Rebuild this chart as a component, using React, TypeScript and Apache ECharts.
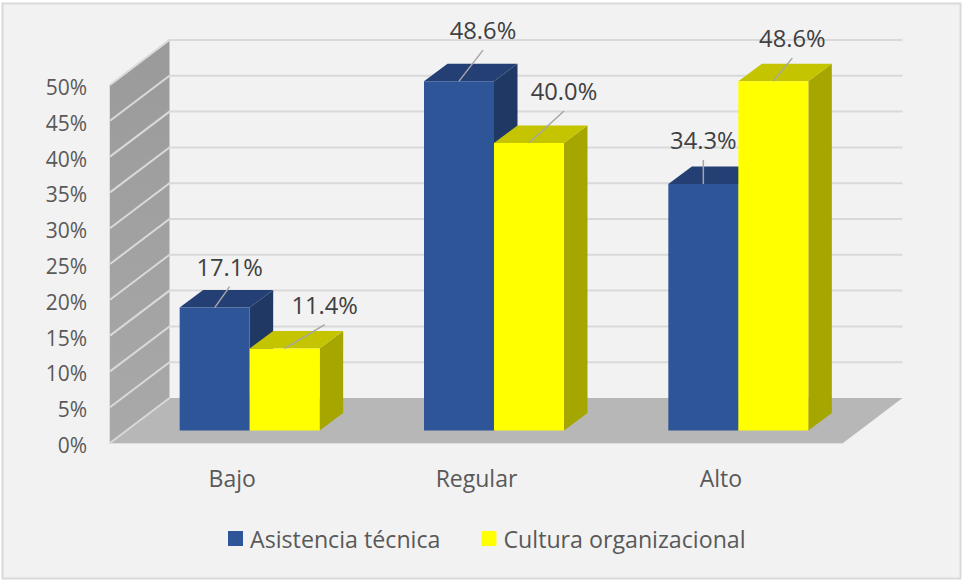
import React, { useEffect, useRef } from "react";
import * as echarts from "echarts";

const categories = ["Bajo", "Regular", "Alto"];
const asistencia = [17.1, 48.6, 34.3];
const cultura = [11.4, 40.0, 48.6];
const yTicks = [0, 5, 10, 15, 20, 25, 30, 35, 40, 45, 50];
const seriesNames = ["Asistencia técnica", "Cultura organizacional"];

// leader-line ends, relative to the middle of each bar's top front edge
const leaderAsistencia = [[15, -21], [24, -31], [0, -24]];
const leaderCultura = [[40, -24], [35, -32], [19, -23]];

const FONT = '"Open Sans", sans-serif';
const WALL_DX = 59.5;
const WALL_DY = -45;
const BAR_DX = 23.5;
const BAR_DY = -17.5;
const BAR_W = 70;
const BAR_FLOOR_DY = -12.5;
const BAR_START = -52.5;
const BAR_SCALE = 1.004;

function wallItem(params: any, api: any) {
  const c = params.coordSys;
  const l = c.x, r = c.x + c.width, t = c.y, b = c.y + c.height;
  return {
    type: "group",
    children: [
      {
        type: "polygon",
        shape: { points: [[l, b], [l + WALL_DX, b + WALL_DY], [r + WALL_DX, b + WALL_DY], [r, b]] },
        style: { fill: "#b7b7b7" },
      },
      {
        type: "polygon",
        shape: { points: [[l, b], [l, t], [l + WALL_DX, t + WALL_DY], [l + WALL_DX, b + WALL_DY]] },
        style: {
          fill: new echarts.graphic.LinearGradient(0, 0, 0, 1, [
            { offset: 0, color: "#9a9a9a" },
            { offset: 1, color: "#a9a9a9" },
          ]),
        },
      },
    ],
  };
}

function gridItem(params: any, api: any) {
  const c = params.coordSys;
  const value = api.value(1);
  const p = api.coord([0, value]);
  const l = c.x, r = c.x + c.width;
  const points = [[l, p[1]], [l + WALL_DX, p[1] + WALL_DY]];
  // the zero line stops at the corner: the floor's back edge has no line
  if (value > 0) points.push([r + WALL_DX, p[1] + WALL_DY]);
  return {
    type: "polyline",
    shape: { points },
    style: { stroke: "#d9d9d9", lineWidth: 2, fill: "none" },
  };
}

function barRenderer(slot: number, front: string, top: string, side: string, leaders: number[][]) {
  return (params: any, api: any) => {
    const i = api.value(0);
    const v = api.value(1);
    const center = api.coord([i, 0]);
    const val = api.coord([i, v]);
    const x0 = center[0] + BAR_START + slot * BAR_W;
    const x1 = x0 + BAR_W;
    const yb = center[1] + BAR_FLOOR_DY;
    const yt = yb - (center[1] - val[1]) * BAR_SCALE;
    const mid = (x0 + x1) / 2;
    const end = leaders[i];
    return {
      type: "group",
      children: [
        { type: "polygon", shape: { points: [[x1, yb], [x1, yt], [x1 + BAR_DX, yt + BAR_DY], [x1 + BAR_DX, yb + BAR_DY]] }, style: { fill: side } },
        { type: "polygon", shape: { points: [[x0, yt], [x0 + BAR_DX, yt + BAR_DY], [x1 + BAR_DX, yt + BAR_DY], [x1, yt]] }, style: { fill: top } },
        { type: "rect", shape: { x: x0, y: yt, width: BAR_W, height: yb - yt }, style: { fill: front } },
        { type: "line", shape: { x1: mid, y1: yt, x2: mid + end[0], y2: yt + end[1] }, style: { stroke: "#a6a6a6", lineWidth: 1.5 } },
        {
          type: "text",
          style: {
            x: mid + end[0],
            y: yt + end[1] - 20,
            text: v.toFixed(1) + "%",
            fill: "#404040",
            font: `23.7px ${FONT}`,
            textAlign: "center",
            textVerticalAlign: "middle",
          },
        },
      ],
    };
  };
}

export default function App() {
  const ref = useRef<HTMLDivElement>(null);
  useEffect(() => {
    document.body.style.margin = "0";
    const chart = echarts.init(ref.current!, undefined, { renderer: "svg" });
    chart.setOption({
      animation: false,
      backgroundColor: "#ffffff",
      textStyle: { fontFamily: FONT },
      graphic: [
        {
          type: "rect",
          z: -10,
          shape: { x: 2.5, y: 3.5, width: 958, height: 575 },
          style: { fill: "#f2f2f2", stroke: "#d9d9d9", lineWidth: 2 },
        },
      ],
      grid: { left: 110, right: 120, top: 85, bottom: 138 },
      xAxis: {
        type: "category",
        data: categories,
        axisLine: { show: true, lineStyle: { color: "#d9d9d9", width: 1.5 } },
        axisTick: { show: false },
        axisLabel: { color: "#595959", fontSize: 23, fontFamily: FONT, margin: 23 },
      },
      yAxis: {
        type: "value",
        min: 0,
        max: 50,
        interval: 5,
        axisLine: { show: true, lineStyle: { color: "#d9d9d9", width: 1.5 } },
        axisTick: { show: false },
        splitLine: { show: false },
        axisLabel: {
          margin: 23,
          formatter: "{t|{value}%}",
          rich: { t: { color: "#595959", fontSize: 21, fontFamily: FONT, padding: [4, 0, 0, 0] } },
        },
      },
      legend: {
        data: seriesNames,
        left: 223,
        top: 522,
        icon: "rect",
        itemWidth: 15,
        itemHeight: 15,
        itemGap: 41,
        textStyle: { color: "#595959", fontSize: 23.2, fontFamily: FONT, padding: [0, 0, 0, 2] },
      },
      series: [
        {
          type: "custom",
          name: "walls",
          silent: true,
          z: 1,
          renderItem: wallItem,
          data: [[0, 0]],
        },
        {
          type: "custom",
          name: "gridlines",
          silent: true,
          z: 2,
          renderItem: gridItem,
          data: yTicks.map((t) => [0, t]),
        },
        {
          type: "custom",
          name: seriesNames[0],
          z: 3,
          itemStyle: { color: "#2e5597" },
          renderItem: barRenderer(0, "#2e5597", "#233f74", "#1f3864", leaderAsistencia),
          data: asistencia.map((v, i) => [i, v]),
          encode: { x: 0, y: 1 },
        },
        {
          type: "custom",
          name: seriesNames[1],
          z: 4,
          itemStyle: { color: "#ffff00" },
          renderItem: barRenderer(1, "#ffff00", "#c4c400", "#a6a600", leaderCultura),
          data: cultura.map((v, i) => [i, v]),
          encode: { x: 0, y: 1 },
        },
      ],
    });
    return () => chart.dispose();
  }, []);
  return <div ref={ref} style={{ width: 963, height: 581 }} />;
}
